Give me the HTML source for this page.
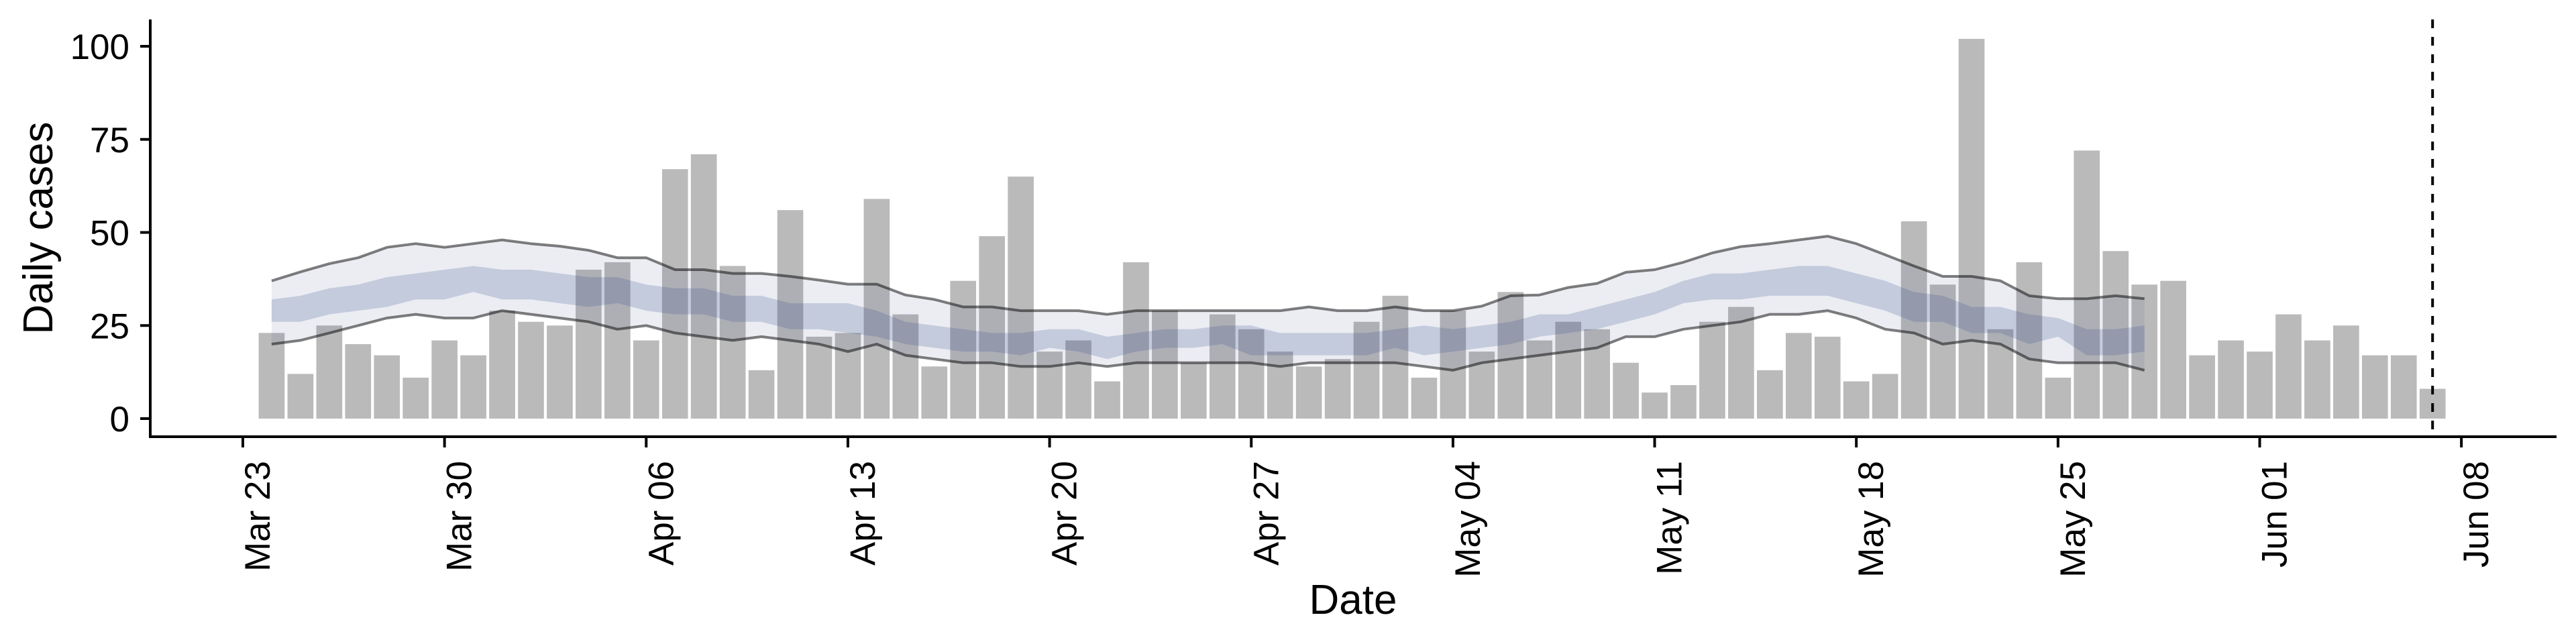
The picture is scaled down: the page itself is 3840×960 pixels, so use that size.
<!DOCTYPE html>
<html><head><meta charset="utf-8">
<style>
html,body{margin:0;padding:0;background:#fff;}
svg{display:block;font-family:"Liberation Sans",sans-serif;}
</style></head>
<body>
<svg id="chart" width="3840" height="960" viewBox="0 0 3840 960" xmlns="http://www.w3.org/2000/svg">
  <g id="bars"></g>
  <g id="bands"></g>
  <g id="lines"></g>
  <line id="vline" y1="29" y2="651" stroke="#000" stroke-width="4" stroke-dasharray="13,13"/>
  <line x1="224" y1="29" x2="224" y2="653" stroke="#000" stroke-width="4"/>
  <line x1="222" y1="651" x2="3811" y2="651" stroke="#000" stroke-width="4"/>
  <g id="yticks"></g>
  <g id="xticks"></g>
  <text transform="translate(78,340) rotate(-90)" text-anchor="middle" font-size="62">Daily cases</text>
  <text x="2017" y="915" text-anchor="middle" font-size="62">Date</text>
</svg>
<script>
// Data: day index 0 = Mar 23
const barValues = [23,12,25,20,17,11,21,17,
 29,26,25,40,42,21,67,71,41,13,56,22,23,59,28,14,37,49,65,18,21,10,42,29,15,28,24,18,14,16,
 26,33,11,29,18,34,21,26,24,15,7,9,26,30,13,23,22,10,12,53,36,102,24,42,11,72,45,36,37,17,21,
 18,28,21,25,17,17,8];
const outerUpper = [37,39.4,41.6,43.2,46,47,46,47,
 48,47,46.3,45.2,43.2,43.2,40,40,39,39,38.2,37.2,36.1,36.1,33.2,32,30,30,29,29,29,28,29,29,29,29,29,29,30,29,
 29,30,29,29,30.2,33,33.2,35.2,36.3,39.3,40,42,44.5,46.2,47,48,49,47,44,41,38.2,38.2,37,33,32.2,32.2,33,32.2];
const outerLower = [20,21,23,25,27,28,27,27,
 29,28,27,26,24,25,23,22,21,22,21,20,18,20,17,16,15,15,14,14,15,14,15,15,15,15,15,14,15,15,
 15,15,14,13,15,16,17,18,19,22,22,24,25,26,28,28,29,27,24,23,20,21,20,16,15,15,15,13];
const innerUpper = [32,33,35,36,38,39,40,41,
 40,40,39,38,38,36,35,35,33,33,31,31,31,29,26,25,24,23,23,24,24,22,23,24,24,25,25,23,23,23,
 23,24,25,24,25,26,28,28,30,32,34,37,39,39,40,41,41,39,37,34,33,30,30,28,27,24,24,25];
const innerLower = [26,26,28,29,30,32,32,34,
 32,32,31,30,31,29,28,28,26,26,24,24,23,22,20,19,18,18,17,19,18,16,18,19,19,20,17,17,17,17,
 17,19,17,18,19,20,22,23,24,26,28,31,32,32,33,33,33,31,29,26,26,23,23,20,22,17,17,18];
const yTicks = [0,25,50,75,100];
const xTickLabels = ["Mar 23","Mar 30","Apr 06","Apr 13","Apr 20","Apr 27","May 04","May 11","May 18","May 25","Jun 01","Jun 08"];
const markerDay = 76;

const NS = "http://www.w3.org/2000/svg";
const X0 = 362, DX = 42.95, Y0 = 624, DY = 5.55;
function xs(d){ return X0 + DX*d; }
function ys(v){ return Y0 - DY*v; }
function mk(tag, attrs, parent){
  const e = document.createElementNS(NS, tag);
  for (const k in attrs) e.setAttribute(k, attrs[k]);
  parent.appendChild(e); return e;
}
const gb = document.getElementById('bars');
barValues.forEach((v,i)=>{
  const d = i+1, w = DX*0.9;
  const r = mk('rect',{x:xs(d)-w/2, y:ys(v), width:w, height:DY*v, fill:'#bababa'}, gb);
  
  
});
function bandPath(up, lo){
  let p = up.map((v,i)=>(i?'L':'M')+xs(i+1).toFixed(1)+','+ys(v).toFixed(1)).join('');
  for (let i=lo.length-1;i>=0;i--) p += 'L'+xs(i+1).toFixed(1)+','+ys(lo[i]).toFixed(1);
  return p+'Z';
}
function linePath(arr){ return arr.map((v,i)=>(i?'L':'M')+xs(i+1).toFixed(1)+','+ys(v).toFixed(1)).join(''); }
const gband = document.getElementById('bands');
const ob = mk('path',{d:bandPath(outerUpper,outerLower), fill:'rgba(60,80,140,0.1)'}, gband);


const ib = mk('path',{d:bandPath(innerUpper,innerLower), fill:'rgba(60,80,140,0.22)'}, gband);


const gl = document.getElementById('lines');
const lu = mk('path',{d:linePath(outerUpper), fill:'none', stroke:'rgba(0,0,0,0.5)', 'stroke-width':4, 'stroke-linejoin':'round'}, gl);


const ll = mk('path',{d:linePath(outerLower), fill:'none', stroke:'rgba(0,0,0,0.5)', 'stroke-width':4, 'stroke-linejoin':'round'}, gl);


const vl = document.getElementById('vline');
vl.setAttribute('x1', xs(markerDay)); vl.setAttribute('x2', xs(markerDay));
const gy = document.getElementById('yticks');
yTicks.forEach(t=>{
  const l = mk('line',{x1:209,x2:224,y1:ys(t),y2:ys(t),stroke:'#000','stroke-width':4}, gy);
  
  
  const tx = mk('text',{x:193,y:ys(t)+19,'text-anchor':'end','font-size':53}, gy);
  tx.textContent = t;
  
  
});
const gx = document.getElementById('xticks');
xTickLabels.forEach((lab,i)=>{
  const x = xs(i*7);
  const l = mk('line',{x1:x,x2:x,y1:651,y2:667,stroke:'#000','stroke-width':4}, gx);
  
  
  const tx = mk('text',{transform:'translate('+(x+40)+',687) rotate(-90)','text-anchor':'end','font-size':53}, gx);
  tx.textContent = lab;
  
  
});
</script>
</body></html>
